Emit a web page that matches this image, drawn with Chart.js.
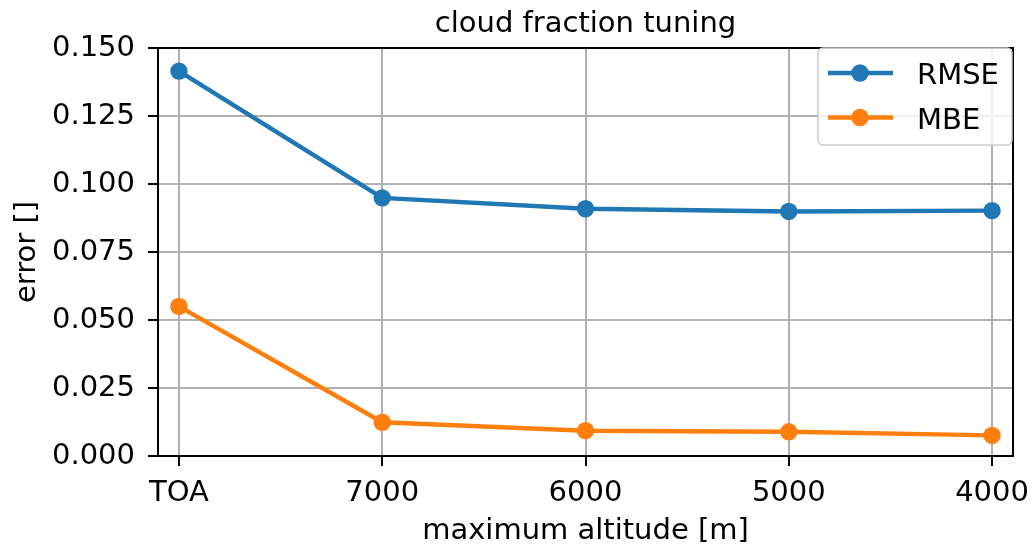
<!DOCTYPE html>
<html>
<head>
<meta charset="utf-8">
<script src="https://cdn.jsdelivr.net/npm/chart.js@4.4.1/dist/chart.umd.min.js"></script>
<style>
    html, body { margin: 0; padding: 0; background: #fff; }
</style>
</head>
<body>
<canvas id="chart" width="1035" height="552"></canvas>
<script>
// Values
const altitudes = ['TOA', '7000', '6000', '5000', '4000'];
const rmse = [0.1415, 0.0949, 0.0909, 0.0899, 0.0902];
const mbe = [0.0550, 0.0124, 0.0093, 0.0089, 0.0076];
const yTicks = [0, 0.025, 0.05, 0.075, 0.1, 0.125, 0.15];

const FONT = { family: 'DejaVu Sans', size: 29 };
const GRID = '#b0b0b0';

Chart.defaults.font.family = FONT.family;
Chart.defaults.font.size = FONT.size;
Chart.defaults.color = '#000';

// matplotlib style legend sitting inside the axes, upper right
const insideLegend = {
    id: 'insideLegend',
    afterDraw(chart) {
        const ctx = chart.ctx;
        const area = chart.chartArea;
        const w = 194, h = 97;
        const x0 = area.right - w - 1;
        const y0 = area.top;
        ctx.save();
        ctx.beginPath();
        ctx.roundRect(x0, y0, w, h, 5);
        ctx.fillStyle = 'rgba(255,255,255,0.8)';
        ctx.fill();
        ctx.lineWidth = 1.5;
        ctx.strokeStyle = '#cccccc';
        ctx.stroke();
        chart.data.datasets.forEach((ds, i) => {
            const y = y0 + 25 + i * 44.5;
            ctx.strokeStyle = ds.borderColor;
            ctx.lineWidth = ds.borderWidth;
            ctx.beginPath();
            ctx.moveTo(x0 + 10, y);
            ctx.lineTo(x0 + 75, y);
            ctx.stroke();
            ctx.fillStyle = ds.borderColor;
            ctx.beginPath();
            ctx.arc(x0 + 42, y, ds.pointRadius, 0, Math.PI * 2);
            ctx.fill();
            ctx.fillStyle = '#000';
            ctx.font = FONT.size + 'px "' + FONT.family + '"';
            ctx.textAlign = 'left';
            ctx.textBaseline = 'alphabetic';
            ctx.fillText(ds.label, x0 + 99, y + 11);
        });
        ctx.restore();
    }
};

const toPoints = (vals) => vals.map((v, i) => ({ x: i, y: v }));

new Chart(document.getElementById('chart'), {
    type: 'line',
    data: {
        datasets: [{
            label: 'RMSE',
            data: toPoints(rmse),
            borderColor: '#1f77b4',
            backgroundColor: '#1f77b4',
            borderWidth: 4.4,
            pointRadius: 8.7,
            pointBorderWidth: 0,
            pointHoverRadius: 8.7
        }, {
            label: 'MBE',
            data: toPoints(mbe),
            borderColor: '#ff7f0e',
            backgroundColor: '#ff7f0e',
            borderWidth: 4.4,
            pointRadius: 8.7,
            pointBorderWidth: 0,
            pointHoverRadius: 8.7
        }]
    },
    options: {
        responsive: false,
        animation: false,
        layout: { padding: { left: 0, right: 22, top: 0, bottom: 0 } },
        plugins: {
            legend: { display: false },
            title: { display: false },
            tooltip: { enabled: false }
        },
        scales: {
            x: {
                type: 'linear',
                position: 'bottom',
                min: -0.103,
                max: 4.103,
                afterBuildTicks: (scale) => {
                    scale.ticks = altitudes.map((_, i) => ({ value: i }));
                },
                afterFit: (scale) => {
                    scale.height = 96;
                    scale.paddingLeft = 0;
                    scale.paddingRight = 0;
                },
                ticks: {
                    autoSkip: false,
                    maxRotation: 0,
                    padding: 10,
                    font: FONT,
                    color: '#000',
                    callback: (v) => altitudes[Math.round(v)]
                },
                grid: {
                    color: GRID,
                    lineWidth: 2,
                    tickColor: '#000',
                    tickLength: 10,
                    tickWidth: 2
                },
                border: { color: '#000', width: 2 },
                title: {
                    display: true,
                    text: 'maximum altitude [m]',
                    font: FONT,
                    color: '#000',
                    padding: { top: 0, bottom: 3 }
                }
            },
            x2: {
                type: 'linear',
                position: 'top',
                afterFit: (scale) => { scale.height = 48; },
                ticks: { display: false },
                grid: { display: false },
                border: { color: '#000', width: 2 },
                title: {
                    display: true,
                    text: 'cloud fraction tuning',
                    font: FONT,
                    color: '#000',
                    padding: { top: 7, bottom: 0 }
                }
            },
            y: {
                type: 'linear',
                position: 'left',
                min: 0,
                max: 0.15,
                afterBuildTicks: (scale) => {
                    scale.ticks = yTicks.map(v => ({ value: v }));
                },
                afterFit: (scale) => {
                    scale.width = 158;
                    scale.paddingTop = 0;
                    scale.paddingBottom = 0;
                },
                ticks: {
                    padding: 13,
                    font: FONT,
                    color: '#000',
                    callback: (v) => v.toFixed(3)
                },
                grid: {
                    color: (c) => (c.tick && (c.tick.value === 0 || c.tick.value === 0.15)) ? 'rgba(0,0,0,0)' : GRID,
                    lineWidth: 2,
                    tickColor: '#000',
                    tickLength: 10,
                    tickWidth: 2
                },
                border: { color: '#000', width: 2 },
                title: {
                    display: true,
                    text: 'error []',
                    font: FONT,
                    color: '#000',
                    padding: { top: 10, bottom: 0 }
                }
            },
            y2: {
                type: 'linear',
                position: 'right',
                afterFit: (scale) => { scale.width = 0; },
                ticks: { display: false },
                grid: { display: false },
                border: { color: '#000', width: 2 }
            }
        }
    },
    plugins: [insideLegend]
});
</script>
</body>
</html>
